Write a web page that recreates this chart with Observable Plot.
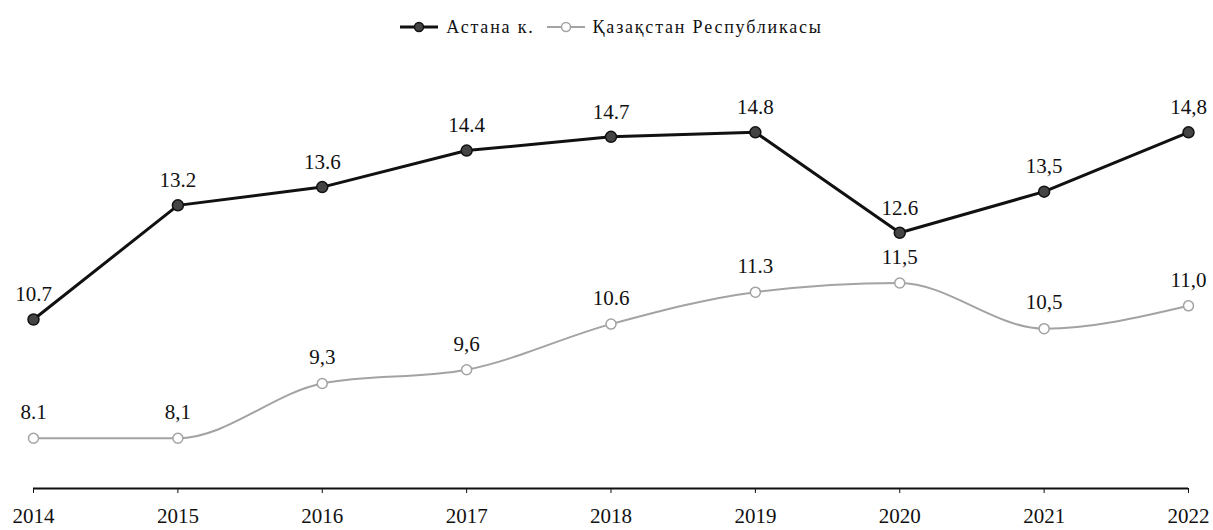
<!DOCTYPE html>
<html>
<head>
<meta charset="utf-8">
<script src="https://cdn.jsdelivr.net/npm/d3@7"></script>
<script src="https://cdn.jsdelivr.net/npm/@observablehq/plot@0.6"></script>
<style>
  html, body { margin: 0; padding: 0; background: #fff; }
  body { width: 1213px; height: 530px; overflow: hidden; font-family: "Liberation Serif", serif; }
  #legend { height: 50px; display: flex; justify-content: center; align-items: center; gap: 12px; font-size: 18px; letter-spacing: 1.8px; color: #111; padding-left: 10px; box-sizing: border-box; padding-top: 4px;}
  #legend .item { display: flex; align-items: center; gap: 8px; }
</style>
</head>
<body>
<div id="legend"></div>
<div id="chart"></div>
<script>
const years = [2014, 2015, 2016, 2017, 2018, 2019, 2020, 2021, 2022];
const seriesNames = ["Астана к.", "Қазақстан Республикасы"];
const astana = [10.7, 13.2, 13.6, 14.4, 14.7, 14.8, 12.6, 13.5, 14.8];
const kazakhstan = [8.1, 8.1, 9.3, 9.6, 10.6, 11.3, 11.5, 10.5, 11.0];
const astanaLabels = ["10.7", "13.2", "13.6", "14.4", "14.7", "14.8", "12.6", "13,5", "14,8"];
const kazakhstanLabels = ["8.1", "8,1", "9,3", "9,6", "10.6", "11.3", "11,5", "10,5", "11,0"];

const dataA = years.map((y, i) => ({year: y, value: astana[i], label: astanaLabels[i]}));
const dataK = years.map((y, i) => ({year: y, value: kazakhstan[i], label: kazakhstanLabels[i]}));

const black = "#111";
const gray = "#a3a3a3";

const legend = document.getElementById("legend");
function legendItem(name, stroke, fill, sw) {
  const d = document.createElement("div");
  d.className = "item";
  d.innerHTML = `<svg width="38" height="12"><line x1="0" x2="38" y1="6" y2="6" stroke="${stroke}" stroke-width="${sw}"/><circle cx="19" cy="6" r="4.5" fill="${fill}" stroke="${stroke}" stroke-width="1.5"/></svg><span>${name}</span>`;
  legend.appendChild(d);
}
legendItem(seriesNames[0], black, "#444", 3);
legendItem(seriesNames[1], gray, "#fff", 2);

const chart = Plot.plot({
  width: 1213,
  height: 480,
  marginLeft: 33,
  marginRight: 25,
  marginTop: 27,
  marginBottom: 42,
  style: {fontFamily: "'Liberation Serif', serif", background: "#fff", color: "#111"},
  x: {domain: [2014, 2022], label: null},
  y: {domain: [7, 16], axis: null},
  marks: [
    Plot.axisX({ticks: years, tickFormat: d3.format("d"), tickSize: 5, tickPadding: 15, fontSize: 21, stroke: black, label: null}),
    Plot.ruleY([7], {x1: 2014, x2: 2022, stroke: black, strokeWidth: 2}),
    Plot.line(dataK, {x: "year", y: "value", stroke: gray, strokeWidth: 2, curve: "monotone-x"}),
    Plot.dot(dataK, {x: "year", y: "value", r: 5, fill: "#fff", stroke: gray, strokeWidth: 1.5}),
    Plot.line(dataA, {x: "year", y: "value", stroke: black, strokeWidth: 3}),
    Plot.dot(dataA, {x: "year", y: "value", r: 5.5, fill: "#444", stroke: black, strokeWidth: 1.5}),
    Plot.text(dataA, {x: "year", y: "value", text: "label", dy: -25, fontSize: 21, fill: black}),
    Plot.text(dataK, {x: "year", y: "value", text: "label", dy: -26, fontSize: 21, fill: black})
  ]
});
document.getElementById("chart").appendChild(chart);
</script>
</body>
</html>
